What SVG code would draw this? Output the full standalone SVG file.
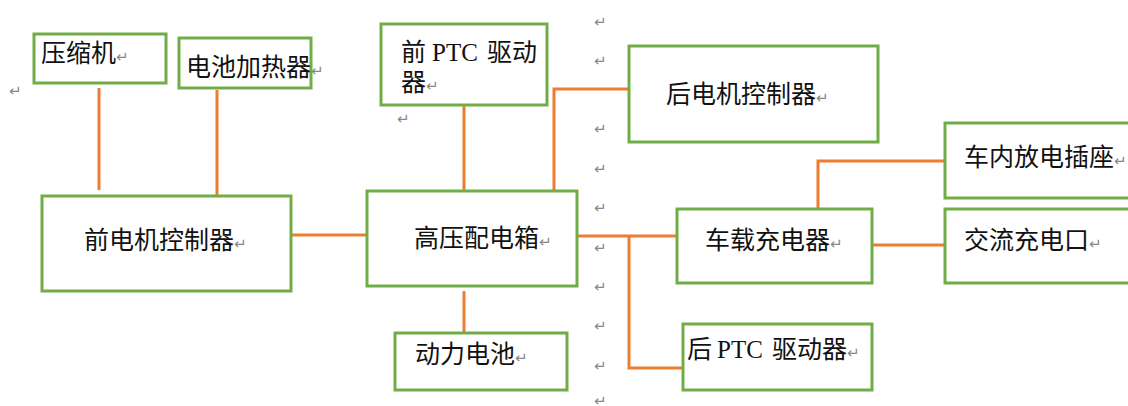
<svg xmlns="http://www.w3.org/2000/svg" width="1128" height="406" viewBox="0 0 1128 406">
<style>
.box{fill:#fff;stroke:#70AD47;stroke-width:3}
.ln{fill:none;stroke:#ED7D31;stroke-width:3}
.t{font-family:"Noto Sans CJK SC","Noto Sans",sans-serif;font-size:25px;fill:#111}
.s{font-family:"Liberation Serif",serif;font-size:25px}
.pm{font-family:"DejaVu Sans",sans-serif;font-size:15px;fill:#888}
</style>
<rect width="1128" height="406" fill="#fff"/>
<g id="connectors">
<path class="ln" d="M99,88V190"/>
<path class="ln" d="M217,90V195"/>
<path class="ln" d="M291,235H367"/>
<path class="ln" d="M464,105V192"/>
<path class="ln" d="M554,191V89H629"/>
<path class="ln" d="M464,291V333"/>
<path class="ln" d="M577,236H677"/>
<path class="ln" d="M629,236V368H683"/>
<path class="ln" d="M818,209V161H945"/>
<path class="ln" d="M872,245H945"/>
</g>
<g id="n-compressor"><rect class="box" x="34" y="34" width="132" height="49"/><text class="t" x="41" y="61.5">压缩机<tspan class="pm">↵</tspan></text></g>
<g id="n-batheater"><rect class="box" x="179" y="38" width="132" height="50"/><text class="t" x="186" y="76">电池加热器<tspan class="pm">↵</tspan></text></g>
<g id="n-frontmcu"><rect class="box" x="42" y="196" width="249" height="95"/><text class="t" x="84" y="248.5">前电机控制器<tspan class="pm">↵</tspan></text></g>
<g id="n-frontptc"><rect class="box" x="381" y="24" width="166" height="81"/><text class="t" y="60.5"><tspan x="401">前</tspan><tspan class="s" x="432">PTC</tspan><tspan x="487">驱动</tspan></text><text class="t" x="401" y="91">器<tspan class="pm">↵</tspan></text></g>
<g id="n-pdu"><rect class="box" x="367" y="191" width="210" height="95"/><text class="t" x="414" y="247">高压配电箱<tspan class="pm">↵</tspan></text></g>
<g id="n-battery"><rect class="box" x="395" y="333" width="172" height="57"/><text class="t" x="415" y="362.5">动力电池<tspan class="pm">↵</tspan></text></g>
<g id="n-rearmcu"><rect class="box" x="629" y="46" width="249" height="96"/><text class="t" x="666" y="103">后电机控制器<tspan class="pm">↵</tspan></text></g>
<g id="n-obc"><rect class="box" x="677" y="209" width="195" height="74"/><text class="t" x="705" y="249">车载充电器<tspan class="pm">↵</tspan></text></g>
<g id="n-rearptc"><rect class="box" x="683" y="324" width="189" height="66"/><text class="t" y="358"><tspan x="687">后</tspan><tspan class="s" x="717">PTC</tspan><tspan x="772">驱动器</tspan><tspan class="pm">↵</tspan></text></g>
<g id="n-socket"><rect class="box" x="945" y="123" width="200" height="75"/><text class="t" x="964" y="166">车内放电插座<tspan class="pm">↵</tspan></text></g>
<g id="n-acport"><rect class="box" x="945" y="209" width="200" height="74"/><text class="t" x="964" y="249">交流充电口<tspan class="pm">↵</tspan></text></g>
<g id="marks" class="pm">
<text x="9" y="96">↵</text>
<text x="397" y="124">↵</text>
<text x="594" y="27">↵</text>
<text x="594" y="66">↵</text>
<text x="594" y="134">↵</text>
<text x="594" y="174">↵</text>
<text x="594" y="213">↵</text>
<text x="594" y="253">↵</text>
<text x="594" y="292">↵</text>
<text x="594" y="331">↵</text>
<text x="594" y="371">↵</text>
<text x="594" y="406">↵</text>
</g>
</svg>
